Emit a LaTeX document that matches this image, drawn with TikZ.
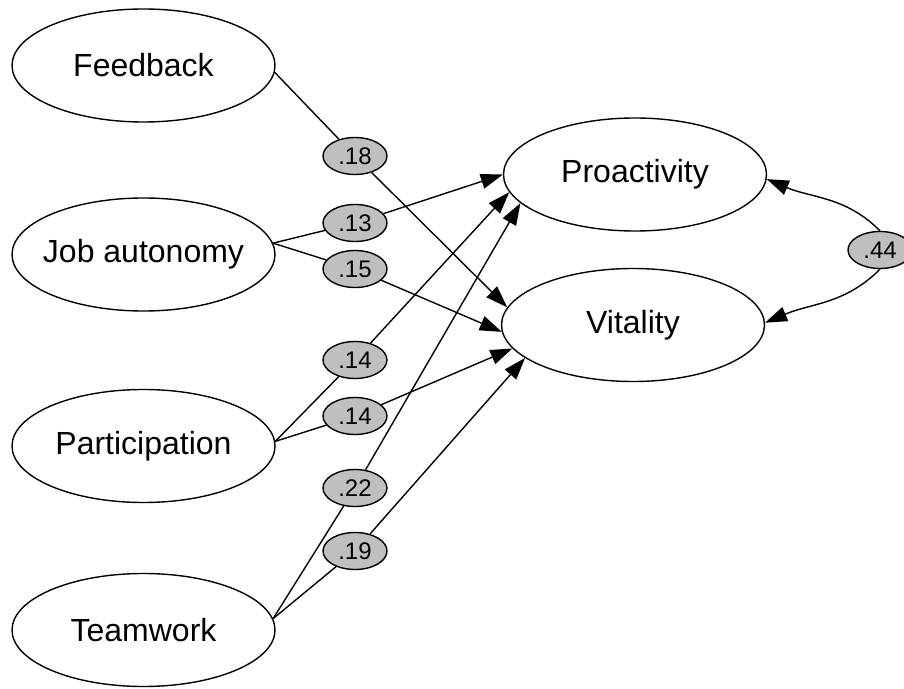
\documentclass[tikz,border=0pt]{standalone}
\usepackage{fontspec}
\setmainfont{Liberation Sans}
\usepackage{tikz}
\usetikzlibrary{arrows.meta, shapes.geometric}
\colorlet{colorCoef}{black!25}
\tikzset{latent/.style={ellipse, draw, minimum width=131.5pt, minimum height=56.5pt, inner sep=0pt, font=\fontsize{16}{19}\selectfont},
  coef/.style={ellipse, draw, fill=colorCoef, minimum width=32pt, minimum height=18.5pt, inner sep=0pt, font=\fontsize{12}{14}\selectfont}}

\begin{document}
\begin{tikzpicture}[x=0.5pt, y=-0.5pt, >={Triangle[length=11pt, width=7.5pt]}, line width=0.7pt]
\useasboundingbox (0,0) rectangle (904,689);
\node[latent] (fb) at (143.5,65.5) {Feedback};
\node[latent] (ja) at (143.5,254.5) {\makebox[0pt]{Job autonomy}};
\node[latent] (pa) at (143.5,446) {Participation};
\node[latent] (tw) at (143.5,630) {Teamwork};
\node[latent] (pro) at (635,174.5) {Proactivity};
\node[latent] (vit) at (633,325) {Vitality};
\node[coef] (c18) at (355,156) {.18};
\node[coef] (c13) at (355,223) {.13};
\node[coef] (c15) at (355,269) {.15};
\node[coef] (c14a) at (355,360) {.14};
\node[coef] (c14b) at (355,416) {.14};
\node[coef] (c22) at (355,488) {.22};
\node[coef] (c19) at (355,551) {.19};
\node[coef] (c44) at (880,250) {.44};
\draw [->] (fb.-3) -- (c18) -- (vit.172);
\draw [->] (ja.5) -- (c13) -- (pro.180);
\draw [->] (ja.5) -- (c15) -- (vit.183);
\draw [->] (pa.2) -- (c14a) -- (pro.188);
\draw [->] (pa.2) -- (c14b) -- (vit.191);
\draw [->] (tw.5) -- (c22) -- (pro.194);
\draw [->] (tw.5) -- (c19) -- (vit.197);
\draw [->] (c44.north) to [out=135, in=-23] (pro.-2);
\draw [->] (c44.south) to [out=-135, in=23] (vit.1);
\end{tikzpicture}
\end{document}
